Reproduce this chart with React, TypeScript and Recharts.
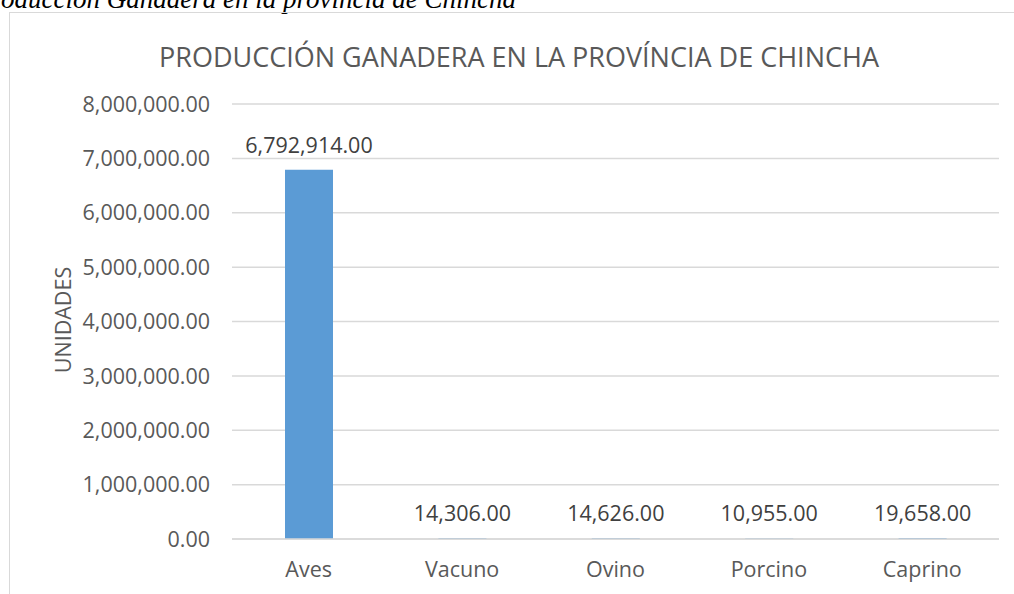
import React from 'react';
import { BarChart, Bar, XAxis, YAxis, CartesianGrid, LabelList } from 'recharts';

const categories = ['Aves', 'Vacuno', 'Ovino', 'Porcino', 'Caprino'];
const unidades = [6792914, 14306, 14626, 10955, 19658];
const yTicks = [0, 1000000, 2000000, 3000000, 4000000, 5000000, 6000000, 7000000, 8000000];

const data = categories.map((name, i) => ({ name, value: unidades[i] }));

const fmt = (v: number) =>
    Number(v).toLocaleString('en-US', { minimumFractionDigits: 2, maximumFractionDigits: 2 });

const FONT = '"Open Sans", "Noto Sans", sans-serif';
const TXT = 21.5;

const App: React.FC = () => {
    return (
        <div style={{ position: 'fixed', left: 0, top: 0, width: 1014, height: 594, overflow: 'hidden', background: '#fff' }}>
            <div
                style={{
                    position: 'absolute',
                    left: -25,
                    top: -16,
                    fontFamily: '"Liberation Serif", "DejaVu Serif", serif',
                    fontStyle: 'italic',
                    fontSize: 27,
                    color: '#000',
                    whiteSpace: 'nowrap',
                }}
            >
                Producción Ganadera en la provincia de Chincha
            </div>
            <div
                style={{
                    position: 'absolute',
                    left: 9,
                    top: 12,
                    width: 1010,
                    height: 590,
                    borderLeft: '1px solid #d9d9d9',
                    borderTop: '1px solid #d9d9d9',
                }}
            />
            <div
                style={{
                    position: 'absolute',
                    left: 0,
                    width: 1038,
                    top: 38,
                    textAlign: 'center',
                    fontFamily: FONT,
                    fontSize: 27,
                    color: '#595959',
                    whiteSpace: 'nowrap',
                }}
            >
                PRODUCCIÓN GANADERA EN LA PROVÍNCIA DE CHINCHA
            </div>
            <div
                style={{
                    position: 'absolute',
                    left: 62,
                    top: 320,
                    transform: 'translate(-50%, -50%) rotate(-90deg)',
                    fontFamily: FONT,
                    fontSize: TXT,
                    color: '#595959',
                    whiteSpace: 'nowrap',
                }}
            >
                UNIDADES
            </div>
            <div style={{ position: 'absolute', left: 9, top: 12 }}>
                <BarChart
                    width={1005}
                    height={582}
                    data={data}
                    margin={{ top: 92, right: 15, bottom: 15, left: 0 }}
                    barCategoryGap={0}
                >
                    <CartesianGrid vertical={false} stroke="#d9d9d9" strokeWidth={1.5} />
                    <XAxis
                        dataKey="name"
                        height={40}
                        axisLine={{ stroke: '#d9d9d9', strokeWidth: 1.5 }}
                        tickLine={false}
                        tickSize={0}
                        tickMargin={23}
                        tick={{ fill: '#595959', fontSize: TXT, fontFamily: FONT }}
                    />
                    <YAxis
                        width={223}
                        domain={[0, 8000000]}
                        ticks={yTicks}
                        interval={0}
                        axisLine={false}
                        tickLine={false}
                        tickSize={0}
                        tickMargin={22}
                        tickFormatter={fmt}
                        tick={{ fill: '#595959', fontSize: TXT, fontFamily: FONT }}
                    />
                    <Bar dataKey="value" fill="#5b9bd5" barSize={48} isAnimationActive={false}>
                        <LabelList
                            dataKey="value"
                            position="top"
                            offset={17}
                            formatter={(v: any) => fmt(v)}
                            style={{ fill: '#404040', fontSize: TXT, fontFamily: FONT }}
                        />
                    </Bar>
                </BarChart>
            </div>
        </div>
    );
};

export default App;
